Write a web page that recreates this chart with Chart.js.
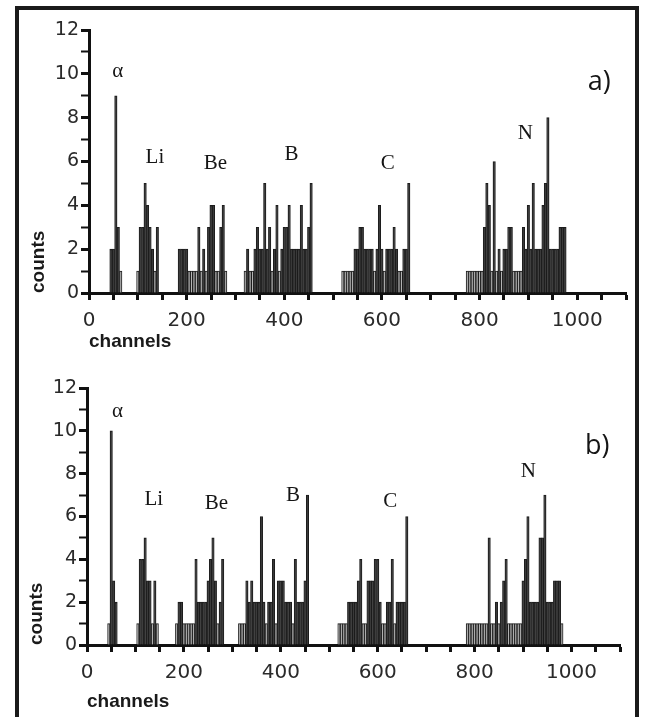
<!DOCTYPE html>
<html>
<head>
<meta charset="utf-8">
<script src="https://cdn.jsdelivr.net/npm/chart.js@4.4.1/dist/chart.umd.min.js"></script>
<style>
  body { margin: 0; background: #fff; width: 646px; height: 717px; overflow: hidden; position: relative; }
  #frame { position: absolute; left: 15px; top: 6px; width: 624px; height: 760px; border: 4px solid #1a1a1a; box-sizing: border-box; }
  .panel { position: absolute; left: 0; width: 646px; }
  #panel-a { top: 0; height: 360px; }
  #panel-b { top: 360px; height: 357px; }
</style>
</head>
<body>
<div id="frame"></div>
<div class="panel" id="panel-a"><canvas id="spec-a"></canvas></div>
<div class="panel" id="panel-b"><canvas id="spec-b"></canvas></div>
<script>
// counts per 5-channel bin, one list per peak, starting at peakStart
const binWidth = 5;

// panel a)
const peakStartA = [45, 100, 185, 320, 520, 775];
const alphaA = [2, 2, 9, 3, 1];
const liA = [1, 3, 3, 5, 4, 3, 2, 1, 3];
const beA = [2, 2, 2, 2, 1, 1, 1, 1, 3, 1, 2, 1, 3, 4, 4, 1, 1, 3, 4, 1];
const boronA = [1, 2, 1, 1, 2, 3, 2, 2, 5, 2, 3, 1, 2, 4, 1, 2, 3, 3, 4, 2, 2, 2, 2, 4, 2, 2, 3, 5];
const carbonA = [1, 1, 1, 1, 1, 2, 2, 3, 3, 2, 2, 2, 2, 1, 2, 4, 2, 1, 2, 2, 2, 3, 2, 1, 1, 2, 2, 5];
const nitrogenA = [1, 1, 1, 1, 1, 1, 1, 3, 5, 4, 1, 6, 1, 2, 1, 2, 2, 3, 3, 1, 1, 1, 1, 3, 2, 4, 2, 5, 2, 2, 2, 4, 5, 8, 2, 2, 2, 2, 3, 3, 3];

// panel b)
const peakStartB = [45, 105, 185, 315, 520, 785];
const alphaB = [1, 10, 3, 2];
const liB = [1, 4, 4, 5, 3, 3, 1, 3, 1];
const beB = [1, 2, 2, 1, 1, 1, 1, 1, 4, 2, 2, 2, 2, 3, 4, 5, 3, 1, 2, 4];
const boronB = [1, 1, 1, 3, 2, 3, 2, 2, 2, 6, 2, 1, 2, 2, 4, 1, 3, 3, 3, 2, 2, 2, 1, 4, 2, 2, 2, 3, 7];
const carbonB = [1, 1, 1, 1, 2, 2, 2, 2, 3, 4, 1, 1, 3, 3, 3, 4, 4, 2, 1, 1, 2, 2, 4, 1, 2, 2, 2, 2, 6];
const nitrogenB = [1, 1, 1, 1, 1, 1, 1, 1, 1, 5, 1, 1, 2, 1, 2, 3, 4, 1, 1, 1, 1, 1, 1, 3, 4, 6, 2, 2, 2, 2, 5, 5, 7, 2, 2, 2, 3, 3, 3, 1];

// peak labels (text, channel, count where they sit)
const labelText = ["α", "Li", "Be", "B", "C", "N"];
const labelChA = [59, 135, 259, 415, 612, 894];
const labelCountA = [10.1, 6.2, 5.9, 6.3, 5.9, 7.3];
const labelChB = [63, 138, 267, 425, 626, 911];
const labelCountB = [10.9, 6.8, 6.6, 7.0, 6.7, 8.1];

const yTicks = [0, 2, 4, 6, 8, 10, 12];
const xTicks = [0, 200, 400, 600, 800, 1000];

function toPoints(starts, groups) {
  var pts = [];
  groups.forEach(function (g, i) {
    g.forEach(function (c, j) {
      pts.push({ x: starts[i] + j * binWidth, y: c });
    });
  });
  return pts;
}

const peakLabels = {
  id: "peakLabels",
  afterDatasetsDraw(chart, args, opts) {
    const ctx = chart.ctx;
    const sx = chart.scales.x, sy = chart.scales.y;
    ctx.save();
    ctx.fillStyle = "#151515";
    ctx.textAlign = "center";
    ctx.textBaseline = "middle";
    ctx.font = "21px 'Liberation Serif'";
    opts.text.forEach(function (t, i) {
      ctx.fillText(t, sx.getPixelForValue(opts.ch[i]), sy.getPixelForValue(opts.count[i]));
    });
    ctx.font = "27px 'Open Sans'";
    ctx.fillText(opts.tag, sx.getPixelForValue(opts.tagCh), sy.getPixelForValue(opts.tagCount));
    ctx.restore();
  },
};

function makeChart(id, points, lay, lbl) {
  return new Chart(document.getElementById(id).getContext("2d"), {
    type: "bar",
    data: {
      datasets: [
        {
          data: points,
          backgroundColor: function (c) {
            return c.raw && c.raw.y <= 1 ? "#b4b4b4" : "#3a3a3a";
          },
          borderColor: "#1c1c1c",
          borderWidth: 1,
          barPercentage: 1,
          categoryPercentage: 1,
        },
      ],
    },
    options: {
      responsive: true,
      maintainAspectRatio: false,
      animation: false,
      layout: { padding: lay.padding },
      plugins: {
        legend: { display: false },
        tooltip: { enabled: false },
        peakLabels: lbl,
      },
      scales: {
        x: {
          type: "linear",
          min: 0,
          max: 1100,
          offset: false,
          afterFit: function (scale) {
            scale.height = lay.xHeight;
          },
          border: { display: true, color: "#111", width: 3 },
          grid: { offset: false, drawOnChartArea: false, drawTicks: true, tickLength: 7, tickColor: "#111", tickWidth: 3 },
          ticks: {
            stepSize: 50,
            autoSkip: false,
            maxRotation: 0,
            padding: 9,
            color: "#2a2a2a",
            font: { family: "'DejaVu Sans'", size: 20 },
            callback: function (v) {
              return xTicks.includes(v) ? String(v) : "";
            },
          },
          title: {
            display: true,
            text: "channels",
            align: "start",
            color: "#1a1a1a",
            padding: { top: 0, bottom: lay.titlePad },
            font: { family: "'Liberation Sans'", size: 19, weight: "bold" },
          },
        },
        y: {
          min: 0,
          max: 12,
          afterFit: function (scale) {
            scale.width = lay.yWidth;
          },
          border: { display: true, color: "#111", width: 3 },
          grid: {
            drawOnChartArea: false,
            drawTicks: true,
            tickLength: 8,
            tickColor: "#111",
            tickWidth: function (c) {
              return c.tick && c.tick.value % 2 === 0 ? 3 : 2;
            },
          },
          ticks: {
            stepSize: 1,
            autoSkip: false,
            padding: 2,
            color: "#2a2a2a",
            font: { family: "'DejaVu Sans'", size: 19 },
            callback: function (v) {
              return yTicks.includes(v) ? String(v) : "";
            },
          },
          title: {
            display: true,
            text: "counts",
            align: "start",
            color: "#1a1a1a",
            padding: { top: 4, bottom: 0 },
            font: { family: "'Liberation Sans'", size: 19, weight: "bold" },
          },
        },
      },
    },
    plugins: [peakLabels],
  });
}

var chartA = makeChart(
  "spec-a",
  toPoints(peakStartA, [alphaA, liA, beA, boronA, carbonA, nitrogenA]),
  { padding: { left: 23, right: 20, top: 30, bottom: 0 }, xHeight: 67, yWidth: 66, titlePad: 7 },
  { text: labelText, ch: labelChA, count: labelCountA, tag: "a)", tagCh: 1045, tagCount: 9.6 }
);

var chartB = makeChart(
  "spec-b",
  toPoints(peakStartB, [alphaB, liB, beB, boronB, carbonB, nitrogenB]),
  { padding: { left: 21, right: 26, top: 28, bottom: 0 }, xHeight: 72, yWidth: 66, titlePad: 4 },
  { text: labelText, ch: labelChB, count: labelCountB, tag: "b)", tagCh: 1053, tagCount: 9.3 }
);
</script>
</body>
</html>
